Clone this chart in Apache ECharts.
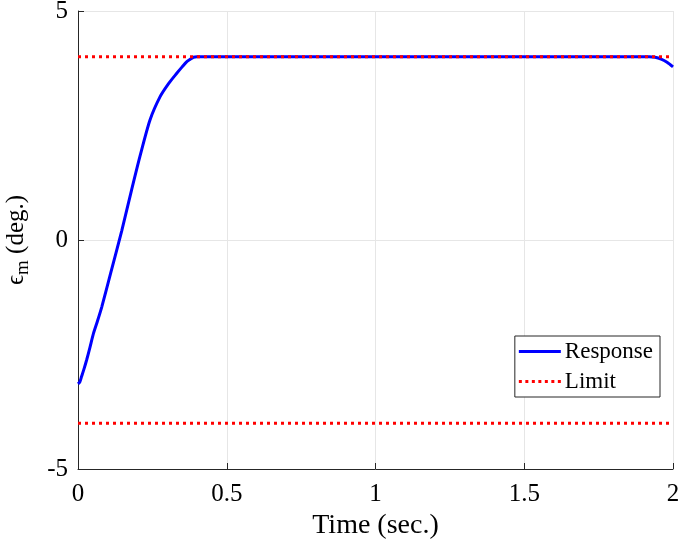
<!DOCTYPE html>
<html>
<head>
<meta charset="utf-8">
<script src="https://cdn.jsdelivr.net/npm/echarts@6/dist/echarts.min.js"></script>
<style>html,body{margin:0;padding:0;background:#fff}#c{width:685px;height:549px}</style>
</head>
<body>
<div id="c"></div>
<script>
var timeSec = [0, 0.006, 0.012, 0.02, 0.029, 0.04, 0.052, 0.065, 0.08, 0.11, 0.147, 0.18, 0.208, 0.242, 0.276, 0.305, 0.332, 0.35, 0.365, 0.378, 0.388, 0.40, 0.42, 0.5, 1.0, 1.5, 1.92, 1.94, 1.96, 1.98, 2.0];
var response = [-3.14, -3.1, -2.98, -2.82, -2.62, -2.35, -2.04, -1.78, -1.46, -0.72, 0.2, 1.09, 1.82, 2.62, 3.13, 3.42, 3.64, 3.78, 3.89, 3.95, 3.99, 4.0, 4.0, 4.0, 4.0, 4.0, 4.0, 3.99, 3.95, 3.88, 3.78];
var limitTime = [0, 2];
var upperLimit = [4, 4];
var lowerLimit = [-4, -4];
var xTicks = {min: 0, max: 2, interval: 0.5};
var yTicks = {min: -5, max: 5, interval: 5};

function pairs(xs, ys) { return xs.map(function (x, i) { return [x, ys[i]]; }); }

var dotPath = 'path://';
for (var k = 0; k < 7; k++) { var x0 = k * 6.5; dotPath += 'M' + x0 + ',0h3v3h-3z '; }

var font = '"Liberation Serif", "Times New Roman", serif';
var chart = echarts.init(document.getElementById('c'), null, {renderer: 'canvas'});
chart.setOption({
  animation: false,
  backgroundColor: '#fff',
  grid: {left: 78, right: 12, top: 11, bottom: 80, containLabel: false, outerBoundsMode: 'none'},
  xAxis: {
    type: 'value', min: xTicks.min, max: xTicks.max, interval: xTicks.interval,
    name: 'Time (sec.)', nameLocation: 'middle', nameGap: 43,
    nameTextStyle: {fontFamily: font, fontSize: 28, color: '#000'},
    axisLine: {show: true, onZero: false, lineStyle: {color: '#262626', width: 1}},
    axisTick: {show: true, inside: true, length: 6, lineStyle: {color: '#262626'}},
    axisLabel: {fontFamily: font, fontSize: 25, color: '#000', margin: 13,
      formatter: function (v) { return String(v); }},
    splitLine: {show: true, lineStyle: {color: '#e6e6e6', width: 1}}
  },
  yAxis: {
    type: 'value', min: yTicks.min, max: yTicks.max, interval: yTicks.interval,
    name: '{a|ϵ}{b|m}{a| (deg.)}', nameLocation: 'middle', nameGap: 45, nameRotate: 90,
    nameTextStyle: {fontFamily: font, fontSize: 25, color: '#000',
      rich: {
        a: {fontFamily: font, fontSize: 25, color: '#000'},
        b: {fontFamily: font, fontSize: 19, color: '#000', padding: [14, 0, 0, 0]}
      }},
    axisLine: {show: true, onZero: false, lineStyle: {color: '#262626', width: 1}},
    axisTick: {show: true, inside: true, length: 6, lineStyle: {color: '#262626'}},
    axisLabel: {fontFamily: font, fontSize: 25, color: '#000', margin: 10},
    splitLine: {show: true, lineStyle: {color: '#e6e6e6', width: 1}}
  },
  legend: {
    right: 25, top: 336,
    orient: 'vertical',
    itemWidth: 42, itemHeight: 10, itemGap: 7,
    padding: [4, 7, 4, 4],
    borderColor: '#262626', borderWidth: 1, backgroundColor: '#fff',
    textStyle: {fontFamily: font, fontSize: 23, color: '#000', padding: [0, 0, 0, -1]},
    data: [
      {name: 'Response', icon: 'path://M0,0 L42,0 L42,3 L0,3 Z'},
      {name: 'Limit', icon: dotPath}
    ]
  },
  series: [
    {
      name: 'Limit', type: 'line', data: pairs(limitTime, upperLimit), showSymbol: false, symbol: 'none',
      lineStyle: {color: '#ff0000', width: 3, type: [3, 4]}, itemStyle: {color: '#ff0000'}, z: 3
    },
    {
      name: 'Limit', type: 'line', data: pairs(limitTime, lowerLimit), showSymbol: false, symbol: 'none',
      lineStyle: {color: '#ff0000', width: 3, type: [3, 4]}, itemStyle: {color: '#ff0000'}, z: 3
    },
    {
      name: 'Response', type: 'line', data: pairs(timeSec, response), showSymbol: false, symbol: 'none',
      smooth: 0.25,
      lineStyle: {color: '#0000ff', width: 3}, itemStyle: {color: '#0000ff'}, z: 2
    }
  ]
});
</script>
</body>
</html>
